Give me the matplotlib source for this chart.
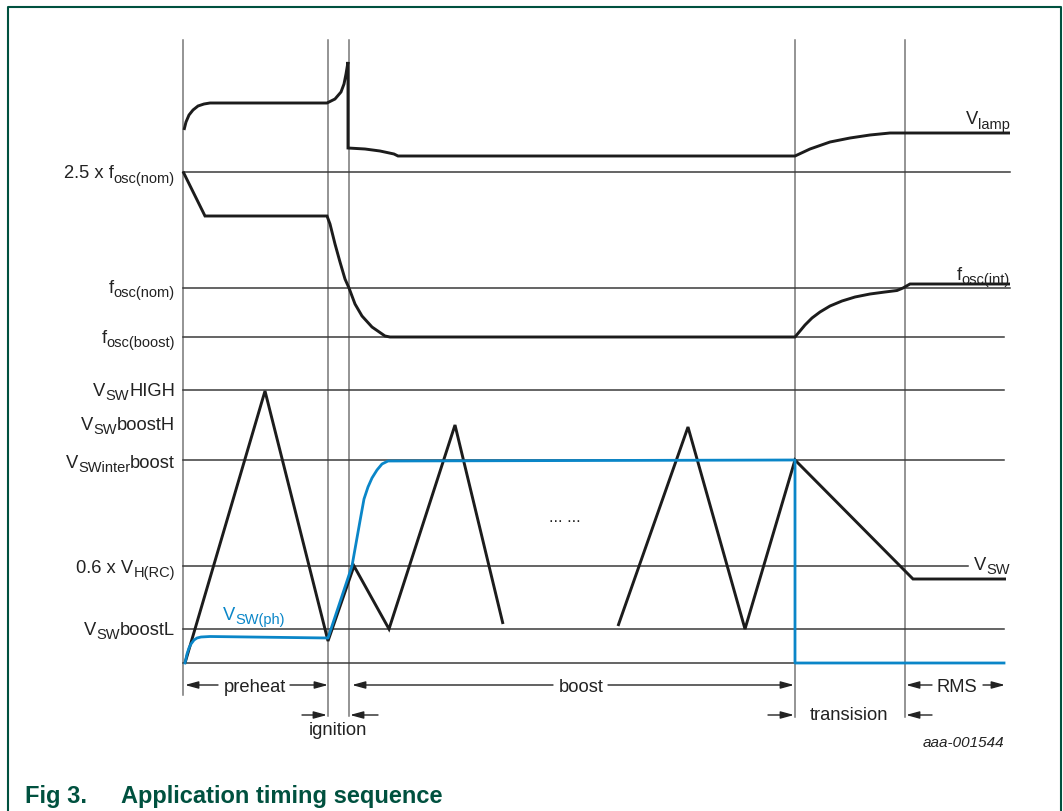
import matplotlib
matplotlib.use('Agg')
import matplotlib.pyplot as plt

plt.rcParams['font.family'] = ['Liberation Sans', 'DejaVu Sans']

# ---------------- data (time axis in diagram units, levels in diagram units) -------------
# phase boundary markers
t_marks = [183, 328, 349, 795, 905]
t_marks_end = [696, 717, 717, 718, 718]

# reference levels: label parts (text, is_subscript)
level_labels = [[('2.5 x f', 0), ('osc(nom)', 1)],
                [('f', 0), ('osc(nom)', 1)],
                [('f', 0), ('osc(boost)', 1)],
                [('V', 0), ('SW', 1), ('HIGH', 0)],
                [('V', 0), ('SW', 1), ('boostH', 0)],
                [('V', 0), ('SWinter', 1), ('boost', 0)],
                [('0.6 x V', 0), ('H(RC)', 1)],
                [('V', 0), ('SW', 1), ('boostL', 0)]]
level_values = [172.5, 289, 338, 391, 424, 461, 567, 630]
level_ends = [1010, 1010, 1004, 1004, None, 1004, 968, 1004]
label_baselines = [178, 293, 343, 396, 430, 468, 573, 635]
zero_level = 664
zero_end = 1004

# V_lamp
vlamp_t = [184, 186, 189, 193, 198, 204, 210, 327, 335, 341, 344, 346, 348,
           348, 365, 380, 394, 398, 795, 810, 830, 850, 870, 890, 905, 1010]
vlamp_v = [131, 123, 116, 111, 107, 105, 104, 104, 100, 93, 85, 75, 63,
           149, 150, 152, 155, 157, 157, 150, 143, 139, 136, 134, 134, 134]

# oscillator frequency
fosc_t = [183, 205, 327, 330, 335, 340, 345, 349, 355, 362, 372, 385, 390,
          795, 800, 805, 812, 820, 830, 842, 855, 870, 885, 897, 903, 910, 1010]
fosc_v = [172.5, 217, 217, 225, 245, 263, 280, 289, 305, 317, 328, 337, 338,
          338, 332, 326, 319, 313, 307, 302, 298, 295, 293, 291.5, 289, 285, 285]

# V_SW (two drawn segments, gap = "... ...")
vsw1_t = [185, 265, 328, 354, 389, 455, 503]
vsw1_v = [664, 392, 642, 567, 630, 426, 625]
vsw2_t = [618, 688, 745, 795, 913, 1006]
vsw2_v = [627, 428, 630, 461, 580, 580]

# V_SW(ph)
vswph_t = [185, 187, 189, 191, 194, 197, 201, 210, 328, 352, 360, 364, 368, 372, 377, 382, 388, 795, 795, 1004]
vswph_v = [664, 655, 649, 645, 641, 639, 638, 637.5, 639, 567, 522, 500, 488, 479, 471, 465, 462, 461, 664, 664]

# phase annotations
phase_labels = ['preheat', 'boost', 'RMS', 'transision', 'ignition']
phase_text_x = [255, 581, 957, 849, 338]
phase_text_base = [692, 692, 692, 720, 735]
phase_arrows = [[(218, 185), (290, 328)],
                [(553, 352), (608, 794)],
                [(932, 906), (983, 1005)],
                [(768, 794), (932, 906)],
                [(302, 327), (378, 350)]]
phase_arrow_y = [686, 686, 686, 716, 716]

# ---------------- drawing -------------
W, H = 1063, 812
fig = plt.figure(figsize=(W / 100, H / 100), dpi=100)
ax = fig.add_axes([0, 0, 1, 1])
ax.set_xlim(0, W)
ax.set_ylim(H, 0)
ax.axis('off')
renderer = fig.canvas.get_renderer()

green = '#00513f'
blue = '#0a86c8'
black = '#1c1c1c'
txt = '#222222'
grid_h = '#3a3a3a'
grid_v = '#777777'

FS = 13.2
SUB = 0.8
SUB_DROP = 4.5


def rich_text(x, y, parts, ha='left', fontsize=FS, color=txt):
    # measure
    widths = []
    for s, sub in parts:
        t = ax.text(0, 0, s, fontsize=fontsize * (SUB if sub else 1))
        bb = t.get_window_extent(renderer=renderer)
        widths.append(bb.width)
        t.remove()
    total = sum(widths)
    x0 = x - total if ha == 'right' else x
    for (s, sub), w in zip(parts, widths):
        ax.text(x0, y + (SUB_DROP if sub else 0), s, ha='left', va='baseline',
                fontsize=fontsize * (SUB if sub else 1), color=color)
        x0 += w


# frame
ax.plot([8, 8, 1061, 1061], [812, 8, 8, 812], color=green, lw=1.5, solid_capstyle='butt')

# vertical markers
for t, e in zip(t_marks, t_marks_end):
    ax.plot([t, t], [41, e], color=grid_v, lw=1.1)

# horizontal reference lines
for v, e in zip(level_values, level_ends):
    if e is not None:
        ax.plot([183, e], [v, v], color=grid_h, lw=1.1)
ax.plot([183, zero_end], [zero_level, zero_level], color=grid_h, lw=1.1)

# left labels
for parts, yb in zip(level_labels, label_baselines):
    rich_text(175, yb, parts, ha='right')

# signals
sig = dict(color=black, lw=2.1, solid_joinstyle='miter', solid_capstyle='butt')
ax.plot(vlamp_t, vlamp_v, **sig)
ax.plot(fosc_t, fosc_v, **sig)
ax.plot(vsw1_t, vsw1_v, **sig)
ax.plot(vsw2_t, vsw2_v, **sig)
ax.plot(vswph_t, vswph_v, color=blue, lw=2.0, solid_joinstyle='round')

# right labels
rich_text(1010, 124, [('V', 0), ('lamp', 1)], ha='right')
rich_text(1010, 280, [('f', 0), ('osc(int)', 1)], ha='right')
rich_text(1010, 570, [('V', 0), ('SW', 1)], ha='right')
rich_text(223, 620, [('V', 0), ('SW(ph)', 1)], ha='left', color=blue)
ax.text(565, 522, '... ...', ha='center', va='baseline', fontsize=12, color=txt)

# phase annotations
for lab, x, yb, arrs, ay in zip(phase_labels, phase_text_x, phase_text_base, phase_arrows, phase_arrow_y):
    ax.text(x, yb, lab, ha='center', va='baseline', fontsize=FS, color=txt)
    for tail, head in arrs:
        ax.annotate('', xy=(head, ay), xytext=(tail, ay),
                    arrowprops=dict(arrowstyle='-|>,head_length=0.8,head_width=0.22',
                                    color=txt, lw=1.0, shrinkA=0, shrinkB=0))

ax.text(1004, 747, 'aaa-001544', ha='right', va='baseline', fontsize=11, style='italic', color=txt)

# caption
ax.text(25, 803, 'Fig 3.', ha='left', va='baseline', fontsize=17, fontweight='bold', color=green)
ax.text(121, 803, 'Application timing sequence', ha='left', va='baseline', fontsize=17,
        fontweight='bold', color=green)

fig.savefig('out.png', dpi=100)
